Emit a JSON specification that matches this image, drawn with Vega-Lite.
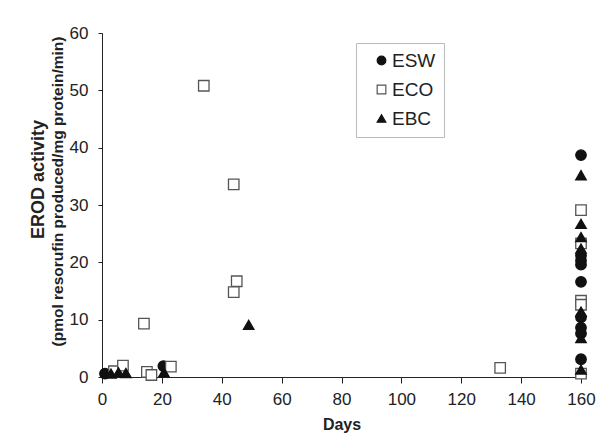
{
  "$schema": "https://vega.github.io/schema/vega-lite/v6.json",
  "autosize": "none",
  "width": 479,
  "height": 344,
  "padding": {"left": 102, "top": 33, "right": 29, "bottom": 69},
  "background": "white",
  "config": {
    "view": {"stroke": null},
    "font": "Liberation Sans",
    "axis": {"grid": false, "domainColor": "#222", "tickColor": "#222", "labelColor": "#222", "titleColor": "#222", "labelFont": "Liberation Sans", "titleFont": "Liberation Sans"}
  },
  "data": {"values": [
    {"group": "ESW", "day": 1, "value": 0.6},
    {"group": "ESW", "day": 20.5, "value": 1.9},
    {"group": "ESW", "day": 160, "value": 38.7},
    {"group": "ESW", "day": 160, "value": 21.2},
    {"group": "ESW", "day": 160, "value": 20.3},
    {"group": "ESW", "day": 160, "value": 19.6},
    {"group": "ESW", "day": 160, "value": 16.6},
    {"group": "ESW", "day": 160, "value": 10.4},
    {"group": "ESW", "day": 160, "value": 8.6},
    {"group": "ESW", "day": 160, "value": 7.6},
    {"group": "ESW", "day": 160, "value": 3.1},
    {"group": "ECO", "day": 4, "value": 1.0},
    {"group": "ECO", "day": 7, "value": 2.0},
    {"group": "ECO", "day": 14, "value": 9.3},
    {"group": "ECO", "day": 15, "value": 0.9},
    {"group": "ECO", "day": 16.5, "value": 0.35},
    {"group": "ECO", "day": 23, "value": 1.8},
    {"group": "ECO", "day": 34, "value": 50.8},
    {"group": "ECO", "day": 44, "value": 33.6},
    {"group": "ECO", "day": 45, "value": 16.7},
    {"group": "ECO", "day": 44, "value": 14.8},
    {"group": "ECO", "day": 133, "value": 1.6},
    {"group": "ECO", "day": 160, "value": 29.1},
    {"group": "ECO", "day": 160, "value": 23.3},
    {"group": "ECO", "day": 160, "value": 13.3},
    {"group": "ECO", "day": 160, "value": 12.6},
    {"group": "ECO", "day": 160, "value": 0.6},
    {"group": "EBC", "day": 3, "value": 0.6},
    {"group": "EBC", "day": 5.5, "value": 0.8},
    {"group": "EBC", "day": 8, "value": 0.7},
    {"group": "EBC", "day": 20.7, "value": 0.8},
    {"group": "EBC", "day": 49, "value": 9.1},
    {"group": "EBC", "day": 160, "value": 35.2},
    {"group": "EBC", "day": 160, "value": 26.7},
    {"group": "EBC", "day": 160, "value": 24.4},
    {"group": "EBC", "day": 160, "value": 22.4},
    {"group": "EBC", "day": 160, "value": 11.4},
    {"group": "EBC", "day": 160, "value": 6.8},
    {"group": "EBC", "day": 160, "value": 1.3}
  ]},
  "resolve": {"axis": {"y": "independent"}},
  "layer": [
    {
      "mark": {"type": "point", "filled": true, "size": 110, "opacity": 1, "strokeWidth": 1.3},
      "encoding": {
        "x": {"field": "day", "type": "quantitative", "scale": {"domain": [0, 160], "nice": false},
          "axis": {"title": "Days", "titleFontSize": 16, "titleFontWeight": "bold", "labelFontSize": 17, "values": [0, 20, 40, 60, 80, 100, 120, 140, 160], "tickSize": 6, "labelPadding": 8, "titlePadding": 9, "labelFlush": false}},
        "y": {"field": "value", "type": "quantitative", "scale": {"domain": [0, 60], "nice": false},
          "axis": {"orient": "left", "title": "(pmol resorufin produced/mg protein/min)", "titleFontSize": 15.5, "titleFontWeight": "bold", "titleBaseline": "middle", "titleX": -45, "titleY": 158, "labelFontSize": 17, "values": [0, 10, 20, 30, 40, 50, 60], "tickSize": 4, "labelPadding": 10}},
        "shape": {"field": "group", "type": "nominal", "scale": {"domain": ["ESW", "ECO", "EBC"], "range": ["circle", "square", "triangle-up"]}, "legend": {"title": null}},
        "fill": {"field": "group", "type": "nominal", "scale": {"domain": ["ESW", "ECO", "EBC"], "range": ["#111", "#fff", "#111"]}, "legend": {"title": null}},
        "stroke": {"field": "group", "type": "nominal", "scale": {"domain": ["ESW", "ECO", "EBC"], "range": ["#111", "#555", "#111"]},
          "legend": {"title": null, "orient": "none", "legendX": 254, "legendY": 10, "strokeColor": "#bbb", "padding": 8, "symbolOffset": 8, "labelFontSize": 19, "labelColor": "#222", "symbolSize": 75, "rowPadding": 9, "labelOffset": 1, "symbolStrokeWidth": 1.2}}
      }
    },
    {
      "mark": {"type": "point", "opacity": 0},
      "encoding": {
        "x": {"field": "day", "type": "quantitative", "scale": {"domain": [0, 160], "nice": false},
          "axis": {"title": "Days", "titleFontSize": 16, "titleFontWeight": "bold", "labelFontSize": 17, "values": [0, 20, 40, 60, 80, 100, 120, 140, 160], "tickSize": 6, "labelPadding": 8, "titlePadding": 9, "labelFlush": false}},
        "y": {"field": "value", "type": "quantitative", "scale": {"domain": [0, 60], "nice": false},
          "axis": {"orient": "left", "title": "EROD activity", "titleFontSize": 18, "titleFontWeight": "bold", "titleBaseline": "middle", "titleX": -64, "titleY": 146, "labels": false, "ticks": false, "domain": false}}
      }
    }
  ]
}
